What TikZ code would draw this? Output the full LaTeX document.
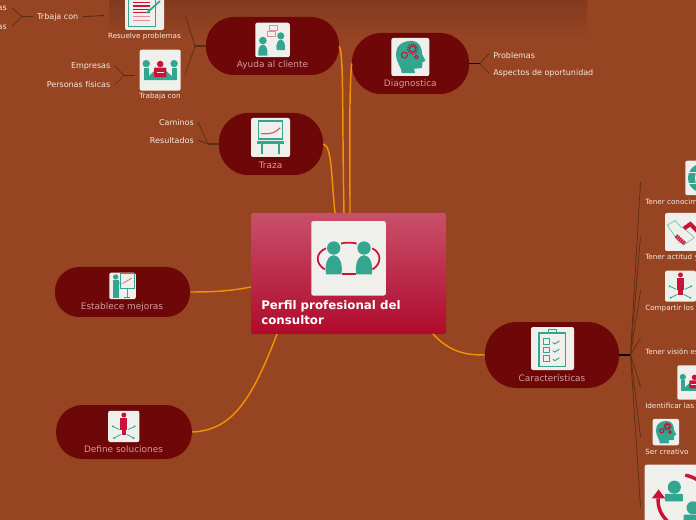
\documentclass[tikz,border=0pt]{standalone}
\usepackage{fontspec}
\setmainfont{DejaVu Sans}
\usetikzlibrary{arrows.meta,positioning,calc}
\definecolor{bgbrown}{HTML}{964422}
\definecolor{bandbrown}{HTML}{823A20}
\definecolor{pillred}{HTML}{6E0808}
\definecolor{pilltext}{HTML}{D49A9F}
\definecolor{leaftext}{HTML}{F7E8E0}
\definecolor{tilegrey}{HTML}{EFF0EC}
\definecolor{iconteal}{HTML}{33A68F}
\definecolor{iconred}{HTML}{C9143A}
\definecolor{iconpink}{HTML}{E68A9C}
\definecolor{linkorange}{HTML}{F39200}
\definecolor{twigbrown}{HTML}{5A2C14}
\definecolor{perfiltop}{HTML}{C8506A}
\definecolor{perfilbot}{HTML}{B00A2C}
\def\px{0.75pt}
\newcommand{\bustfig}[3]{\begin{scope}[shift={(#1,#2)},scale=#3]
    \fill[iconteal] (0,-0.6) circle (0.42);
    \fill[iconteal] (-0.48,1.05) .. controls (-0.6,0.4) and (-0.35,-0.15) .. (0,-0.15)
        .. controls (0.35,-0.15) and (0.6,0.4) .. (0.48,1.05) -- cycle;
  \end{scope}}
\tikzset{
    pill/.style={rectangle, fill=pillred, inner sep=0pt},
    tile/.style={rectangle, fill=tilegrey, rounded corners=1.5pt, inner sep=0pt, minimum size=#1*\px},
    pilllabel/.style={text=pilltext, font=\fontsize{6.7}{8}\selectfont, inner sep=0pt},
    leaflabel/.style={text=leaftext, font=\fontsize{6}{8}\selectfont, inner sep=0pt},
    smalllabel/.style={text=leaftext, font=\fontsize{5.4}{7}\selectfont, inner sep=0pt},
    link/.style={draw=linkorange, line width=1.1pt},
    trunk/.style={draw=twigbrown, line width=1.1pt},
    twig/.style={draw=twigbrown, line width=0.5pt},
    pics/duo/.style={code={
        \bustfig{-0.4}{-0.02}{0.43}
        \bustfig{0.42}{-0.02}{0.43}
        \draw[iconred, line width=1.3pt] (-0.2,-0.4) .. controls (-0.1,-0.43) and (0.1,-0.43) .. (0.22,-0.4);
        \draw[iconred, line width=1.3pt] (-0.17,0.43) -- (0.2,0.43);
        \draw[iconred, line width=1.3pt] (-0.61,-0.27) .. controls (-0.9,-0.15) and (-0.9,0.15) .. (-0.64,0.3);
        \draw[iconred, line width=1.3pt] (0.64,-0.27) .. controls (0.9,-0.15) and (0.9,0.15) .. (0.65,0.3);
    }},
    pics/chaticon/.style={code={
        \bustfig{-0.56}{0.35}{0.53}
        \bustfig{0.48}{0.06}{0.5}
        \draw[iconpink, line width=0.5pt, fill=tilegrey] (-0.2,-0.88) rectangle (0.28,-0.55);
        \draw[iconpink, line width=0.5pt, fill=tilegrey] (-0.3,-0.5) rectangle (0.14,-0.22);
    }},
    pics/brainicon/.style={code={
        \fill[iconteal] (-0.45,0.85) .. controls (-0.45,0.55) and (-0.75,0.3) .. (-0.75,-0.15)
            .. controls (-0.75,-0.65) and (-0.35,-0.85) .. (0.05,-0.85)
            .. controls (0.5,-0.85) and (0.62,-0.45) .. (0.62,-0.15)
            -- (0.8,0.2) -- (0.64,0.28) -- (0.62,0.58) -- (0.2,0.62) -- (0.25,0.85) -- cycle;
        \draw[iconred, line width=1pt] (0.12,-0.42) circle (0.17);
        \draw[iconred, line width=1pt, dash pattern=on 0.9pt off 0.9pt] (0.12,-0.42) circle (0.27);
        \draw[iconred, line width=0.8pt] (-0.31,-0.1) circle (0.16);
        \draw[iconred, line width=0.8pt] (0.32,0.0) circle (0.09);
    }},
    pics/boardicon/.style={code={
        \draw[iconteal, line width=0.9pt] (-0.63,-0.85) rectangle (0.63,0.08);
        \draw[iconred!70!white, line width=0.9pt] (-0.5,-0.2) .. controls (0.1,-0.15) and (0.3,-0.3) .. (0.5,-0.5);
        \fill[iconteal] (-0.67,0.2) rectangle (0.67,0.32);
        \draw[iconteal, line width=1.4pt] (-0.42,0.3) -- (-0.42,0.85);
        \draw[iconteal, line width=1.4pt] (0.42,0.3) -- (0.42,0.85);
    }},
    pics/noteicon/.style={code={
        \draw[iconteal, line width=0.8pt] (-0.8,-0.85) rectangle (0.55,0.8);
        \foreach \yy in {-0.4,-0.23,-0.06,0.11}
            \draw[iconred, line width=1pt] (-0.6,\yy) -- (0.3,\yy);
        \foreach \yy in {0.32,0.53}
            \draw[iconpink, line width=1pt] (-0.6,\yy) -- (0.3,\yy);
        \draw[iconteal, line width=1.3pt] (0.11,0.13) -- (0.8,-0.49);
    }},
    pics/meeticon/.style={code={
        \fill[iconteal] (-0.68,-0.32) circle (0.18);
        \fill[iconteal] (0.68,-0.32) circle (0.18);
        \fill[iconteal] (-0.8,-0.12) rectangle (-0.56,0.48);
        \fill[iconteal] (0.56,-0.12) rectangle (0.8,0.48);
        \fill[iconteal] (-0.78,0.48) -- (0.78,0.48) -- (0.3,0.05) -- (-0.3,0.05) -- cycle;
        \fill[iconred] (0,-0.3) circle (0.16);
        \fill[iconred, rounded corners=0.5pt] (-0.3,-0.12) rectangle (0.3,0.34);
        \draw[tilegrey, line width=0.4pt] (-0.18,0.12) -- (0.18,0.12);
    }},
    pics/presicon/.style={code={
        \fill[iconteal] (-0.51,-0.68) circle (0.2);
        \fill[iconteal] (-0.75,-0.45) rectangle (-0.3,0.9);
        \draw[iconteal, line width=0.6pt] (-0.3,-0.25) -- (-0.05,-0.15);
        \draw[iconteal, line width=0.6pt] (-0.17,-0.95) rectangle (0.87,0.15);
        \draw[iconred!70!white, line width=0.5pt] (0.05,-0.2) -- (0.7,-0.6);
        \draw[iconteal, line width=0.6pt] (0.34,0.15) -- (0.34,0.85);
        \draw[iconteal, line width=0.6pt] (0.1,0.85) -- (0.58,0.85);
    }},
    pics/hubicon/.style={code={
        \fill[iconred] (0,-0.73) circle (0.16);
        \fill[iconred] (-0.23,-0.52) rectangle (0.23,0.25);
        \fill[iconred] (-0.14,0.25) rectangle (0.14,0.55);
        \foreach \xa/\ya/\xb/\yb in {0.7/0/0.28/0.2, -0.7/0/-0.28/0.2, -0.63/0.75/-0.2/0.52, 0.63/0.75/0.2/0.52} {
            \draw[iconteal, line width=0.6pt] (\xa,\ya) -- (\xb,\yb);
            \fill[iconteal] (\xa,\ya) circle (0.07);
        }
    }},
    pics/checkicon/.style={code={
        \draw[iconteal, line width=1pt] (-0.63,-0.72) rectangle (0.6,0.85);
        \draw[iconteal, line width=0.8pt] (-0.17,-0.72) -- (-0.17,-0.88) -- (0.17,-0.88) -- (0.17,-0.72);
        \foreach \yy in {-0.45,-0.07,0.33} {
            \draw[iconteal, line width=0.5pt] (-0.43,\yy) rectangle (-0.17,\yy+0.26);
            \draw[iconteal, line width=0.7pt] (0.02,\yy+0.17) -- (0.1,\yy+0.24) -- (0.32,\yy+0.1);
        }
    }},
    pics/globeicon/.style={code={
        \fill[iconteal] (0,0) circle (0.85);
        \draw[tilegrey, line width=0.6pt] (0,-0.85) .. controls (-0.55,-0.4) and (-0.55,0.4) .. (0,0.85);
        \draw[tilegrey, line width=0.6pt] (-0.85,-0.3) -- (0.85,-0.3);
        \draw[tilegrey, line width=0.6pt] (-0.85,0.3) -- (0.85,0.3);
    }},
    pics/handicon/.style={code={
        \draw[iconteal!70!white, line width=0.5pt] (-0.88,-0.37) -- (-0.47,-0.6) -- (-0.15,-0.25) -- (0,-0.2) -- (0.55,0.3) -- (0.1,0.6) -- (-0.25,0.55) -- (-0.6,0.05) -- cycle;
        \draw[iconred, line width=3pt] (0,-0.18) -- (0.33,-0.42) -- (0.75,0);
        \draw[iconred, line width=3pt, dash pattern=on 1.2pt off 0.5pt] (-0.42,0.2) -- (0.05,0.62);
    }},
    pics/cycleicon/.style={code={
        \fill[iconteal] (-0.21,-0.4) circle (0.175);
        \fill[iconteal, rounded corners=0.6pt] (-0.46,-0.22) rectangle (0.02,-0.02);
        \fill[iconteal] (0.29,0.15) circle (0.175);
        \fill[iconteal, rounded corners=0.6pt] (0.04,0.33) rectangle (0.52,0.6);
        \draw[iconred, line width=2.6pt] (0.08,-0.72) .. controls (0.3,-0.68) and (0.55,-0.55) .. (0.7,-0.3);
        \draw[iconred, line width=2.6pt] (-0.64,-0.1) .. controls (-0.66,0.15) and (-0.55,0.35) .. (-0.4,0.5);
        \fill[iconred] (-0.81,-0.1) -- (-0.63,-0.34) -- (-0.45,-0.1) -- cycle;
    }}
}
\begin{document}
\begin{tikzpicture}[x=0.75pt, y=-0.75pt]
  \useasboundingbox (0,0) rectangle (696,520);
  \clip (0,0) rectangle (696,520);
  \fill[bgbrown] (0,0) rectangle (696,520);
  \fill[top color=bandbrown, bottom color=bgbrown] (109,0) rectangle (587,36);

  % Branch nodes
  \node[pill, minimum width=133*\px, minimum height=58*\px, rounded corners=21pt] (ayuda) at (272.5,46) {};
  \node[pill, minimum width=117*\px, minimum height=61*\px, rounded corners=22pt] (diag) at (410.5,63.5) {};
  \node[pill, minimum width=104*\px, minimum height=62*\px, rounded corners=22pt] (traza) at (271,144) {};
  \node[pill, minimum width=135*\px, minimum height=50*\px, rounded corners=18pt] (mejoras) at (122.5,292) {};
  \node[pill, minimum width=136*\px, minimum height=54*\px, rounded corners=20pt] (soluciones) at (124,432) {};
  \node[pill, minimum width=134*\px, minimum height=66*\px, rounded corners=24pt] (caract) at (552,355) {};
  \node[rectangle, minimum width=195*\px, minimum height=121*\px, inner sep=0pt, rounded corners=1.5pt,
        top color=perfiltop, bottom color=perfilbot] (perfil) at (348.5,273.5) {};

  % Arcs to the central topic
  \coordinate (inayuda) at (344,213);
  \coordinate (indiag) at (350,213);
  \coordinate (intraza) at (335,213);
  \coordinate (inmejoras) at (251,287);
  \coordinate (insol) at (277,334);
  \coordinate (incar) at (433,334);
  \draw[link] (ayuda.east) .. controls (344,55) and (342,120) .. (inayuda);
  \draw[link] (diag.west) .. controls (349,90) and (350,150) .. (indiag);
  \draw[link] (traza.east) .. controls (332,146) and (331,175) .. (intraza);
  \draw[link] (mejoras.east) .. controls (215,292) and (230,291) .. (inmejoras);
  \draw[link] (soluciones.east) .. controls (230,430) and (250,405) .. (insol);
  \draw[link] (caract.west) .. controls (465,355) and (450,352) .. (incar);

  % Forks
  \coordinate (fkayuda) at (195,46);
  \coordinate (ayudaa) at (185,15);
  \coordinate (ayudab) at (185,75);
  \draw[trunk] (ayuda.west) -- (fkayuda);
  \draw[twig] (fkayuda) -- (ayudaa);
  \draw[twig] (fkayuda) -- (ayudab);
  \coordinate (trabin) at (135,75.5);
  \coordinate (fktrab) at (124,75.5);
  \coordinate (traba) at (114.5,65.5);
  \coordinate (trabb) at (114.5,85);
  \draw[trunk] (trabin) -- (fktrab);
  \draw[twig] (fktrab) -- (traba);
  \draw[twig] (fktrab) -- (trabb);
  \coordinate (trbin) at (33,16.7);
  \coordinate (fktrb) at (22,16.7);
  \coordinate (trba) at (12,8);
  \coordinate (trbb) at (12,26);
  \coordinate (trbr) at (83,16.7);
  \coordinate (trbs) at (104,15.5);
  \draw[trunk] (trbin) -- (fktrb);
  \draw[twig] (fktrb) -- (trba);
  \draw[twig] (fktrb) -- (trbb);
  \draw[trunk, line width=0.7pt] (trbr) -- (trbs);
  \coordinate (fktraza) at (208,144);
  \coordinate (trazaa) at (198,122);
  \coordinate (trazab) at (198,140);
  \draw[trunk] (traza.west) -- (fktraza);
  \draw[twig] (fktraza) -- (trazaa);
  \draw[twig] (fktraza) -- (trazab);
  \coordinate (fkdiag) at (480,63.5);
  \coordinate (diaga) at (489,53.5);
  \coordinate (diagb) at (489,73);
  \draw[trunk, draw=black!80!twigbrown] (diag.east) -- (fkdiag);
  \draw[twig] (fkdiag) -- (diaga);
  \draw[twig] (fkdiag) -- (diagb);
  \coordinate (fkcar) at (630.5,355);
  \draw[trunk, draw=black!90!twigbrown] (caract.east) -- (fkcar);
  \foreach \yy in {182,237,291,338,387,437,507} {
    \coordinate (car\yy) at (640.5,\yy);
    \draw[twig] (fkcar) -- (car\yy);
  }

  % Icon tiles
  \node[tile=74.5] (tperfil) at (348.5,258.3) {};
  \node[tile=34.5] (tayuda) at (272.5,40) {};
  \node[tile=38] (tdiag) at (410.3,57) {};
  \node[tile=39] (ttraza) at (270.5,137.5) {};
  \node[tile=39] (tresuelve) at (144.5,10.5) {};
  \node[tile=41] (ttrabaja) at (160.2,70.2) {};
  \node[tile=26.5] (tmejoras) at (122.5,286) {};
  \node[tile=31.2] (tsol) at (123.8,426.4) {};
  \node[tile=43] (tcar) at (552.5,348.5) {};
  \node[tile=34.5] (tconoc) at (702.5,178) {};
  \node[tile=38] (tactitud) at (684,232) {};
  \node[tile=31] (tcomp) at (680.5,286.2) {};
  \node[tile=34.4] (tident) at (694.5,382.5) {};
  \node[tile=26.4] (tcreat) at (665.8,432.1) {};
  \node[tile=75] (tciclo) at (682.2,502.2) {};
  \pic[scale=37] at (tperfil) {duo};
  \pic[scale=17.2] at (tayuda) {chaticon};
  \pic[scale=19] at (tdiag) {brainicon};
  \pic[scale=19.5] at (ttraza) {boardicon};
  \pic[scale=19.5] at (tresuelve) {noteicon};
  \pic[scale=20.5] at (ttrabaja) {meeticon};
  \pic[scale=13.3] at (tmejoras) {presicon};
  \pic[scale=15.6] at (tsol) {hubicon};
  \pic[scale=21.5] at (tcar) {checkicon};
  \pic[scale=17] at (tconoc) {globeicon};
  \pic[scale=19] at (tactitud) {handicon};
  \pic[scale=15.5] at (tcomp) {hubicon};
  \pic[scale=17.2] at (tident) {meeticon};
  \pic[scale=13.2] at (tcreat) {brainicon};
  \pic[scale=37.5] at (tciclo) {cycleicon};

  % Labels
  \node[pilllabel] (layuda) at (272.5,65) {Ayuda al cliente};
  \node[pilllabel] (ldiag) at (410.3,84) {Diagnostica};
  \node[pilllabel] (ltraza) at (270.5,165) {Traza};
  \node[pilllabel] (lmejoras) at (122,307) {Establece mejoras};
  \node[pilllabel] (lsol) at (123.5,449) {Define soluciones};
  \node[pilllabel] (lcar) at (552,378) {Características};
  \node[anchor=north west, text=white, align=left, inner sep=0pt, font=\fontsize{8.87}{11.3}\selectfont\bfseries] (lperfil) at (261,300) {Perfil profesional del\\consultor};
  \node[smalllabel] (lresuelve) at (144.5,36.5) {Resuelve problemas};
  \node[smalllabel] (ltrabaja) at (160,96.5) {Trabaja con};
  \node[leaflabel, anchor=west] (ltrb) at (37,17) {Trbaja con};
  \node[leaflabel, anchor=east] (lemp2) at (7,8.5) {Empresas};
  \node[leaflabel, anchor=east] (lper2) at (7,26.5) {Personas};
  \node[leaflabel, anchor=east] (lemp) at (110.5,66) {Empresas};
  \node[leaflabel, anchor=east] (lper) at (110.5,84) {Personas físicas};
  \node[leaflabel, anchor=east] (lcam) at (194,122.7) {Caminos};
  \node[leaflabel, anchor=east] (lres) at (194,140.5) {Resultados};
  \node[leaflabel, anchor=west] (lprob) at (493,55.7) {Problemas};
  \node[leaflabel, anchor=west] (lasp) at (493,73) {Aspectos de oportunidad};
  \node[smalllabel, anchor=west] (lconoc) at (645,201.5) {Tener conocimientos};
  \node[smalllabel, anchor=west] (lact) at (645,257.5) {Tener actitud y aptitud};
  \node[smalllabel, anchor=west] (lcomp) at (645,308.5) {Compartir los logros};
  \node[smalllabel, anchor=west] (lvis) at (645,352.5) {Tener visión estratégica};
  \node[smalllabel, anchor=west] (lident) at (645,406.5) {Identificar las oportunidades};
  \node[smalllabel, anchor=west] (lcreat) at (645,451.5) {Ser creativo};
\end{tikzpicture}
\end{document}
